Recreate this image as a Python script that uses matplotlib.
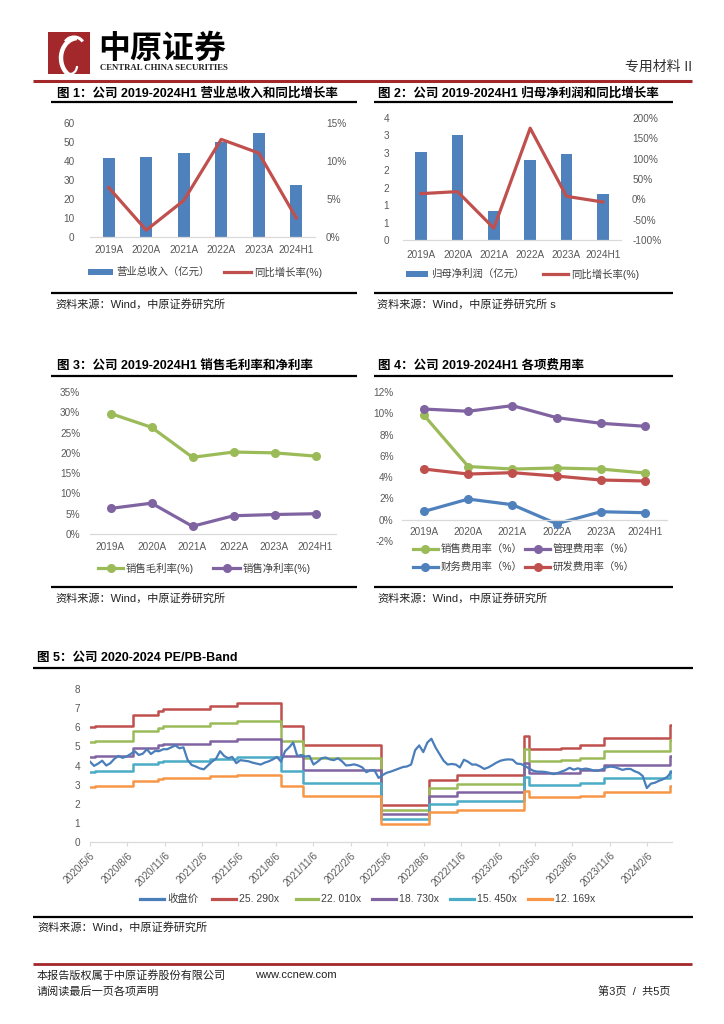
import matplotlib
matplotlib.use('Agg')
import matplotlib.pyplot as plt
import numpy as np
import pandas as pd
from matplotlib.lines import Line2D
from matplotlib.patches import Rectangle, Arc
import matplotlib.dates as mdates

plt.rcParams['font.family'] = ['Liberation Sans', 'Noto Sans CJK SC']
plt.rcParams['axes.unicode_minus'] = False

# ---------------- data ----------------
years = ['2019A', '2020A', '2021A', '2022A', '2023A', '2024H1']
revenue = [41.8, 41.9, 44.2, 49.8, 55.0, 27.2]          # 亿元
revenue_yoy = [6.5, 0.9, 4.8, 12.85, 11.05, 2.5]          # %
profit = [2.52, 3.01, 0.84, 2.30, 2.47, 1.32]             # 亿元
profit_yoy = [14, 19, -71, 175, 7.4, -6.6]                # %
gross_margin = [29.7, 26.3, 18.9, 20.2, 20.0, 19.2]
net_margin = [6.3, 7.6, 1.9, 4.5, 4.8, 5.0]
sell_exp = [9.8, 5.0, 4.76, 4.86, 4.76, 4.39]
admin_exp = [10.4, 10.19, 10.72, 9.59, 9.06, 8.78]
fin_exp = [0.78, 1.94, 1.41, -0.38, 0.75, 0.66]
rd_exp = [4.76, 4.29, 4.42, 4.10, 3.73, 3.64]

# PE band chart
price_start = '2020-05-06'
price_step_days = 10
close_price = [
    4.20, 3.98, 4.10, 4.25, 4.00, 4.12, 4.35, 4.50, 4.40, 4.47,
    4.60, 4.75, 4.55, 4.62, 4.85, 4.60, 4.76, 4.75, 4.85, 4.85,
    4.95, 5.05, 4.90, 4.95, 4.30, 4.03, 3.95, 3.85, 3.80, 4.00,
    4.20, 4.35, 4.75, 4.50, 4.38, 4.45, 4.12, 4.28, 4.25, 4.22,
    4.15, 4.10, 4.05, 4.15, 4.22, 4.32, 4.45, 4.20, 4.75, 4.95,
    5.20, 4.50, 4.55, 4.47, 4.50, 4.05, 4.20, 4.38, 4.42, 4.32,
    4.28, 4.38, 4.22, 4.00, 4.02, 4.06, 4.00, 3.90, 3.65, 3.75,
    3.75, 3.35, 3.50, 3.62, 3.68, 3.76, 3.84, 3.92, 3.95, 4.05,
    4.80, 5.05, 4.70, 5.20, 5.40, 4.95, 4.60, 4.25, 4.05, 4.08,
    4.05, 3.90, 4.30, 4.20, 4.05, 4.05, 3.95, 3.82, 3.90, 4.02,
    4.15, 4.25, 4.30, 4.32, 4.30, 4.10, 4.08, 3.98, 3.85, 3.73,
    3.68, 3.68, 3.66, 3.62, 3.55, 3.60, 3.68, 3.76, 3.88, 3.78,
    3.85, 3.80, 3.84, 3.80, 3.73, 3.73, 3.80, 3.90, 3.94, 3.92,
    3.85, 3.77, 3.82, 3.82, 3.70, 3.62, 3.45, 2.82, 3.05, 3.10,
    3.20, 3.28, 3.40, 3.65,
]
eps_dates = ['2020-05-06', '2020-05-18', '2020-08-20', '2020-10-20', '2020-11-01',
             '2021-02-25', '2021-05-02', '2021-08-18', '2021-10-11', '2022-04-21',
             '2022-08-17', '2022-10-27', '2023-04-10', '2023-04-22', '2023-07-10',
             '2023-08-25', '2023-10-23', '2024-04-02']
eps_ttm = [0.2372, 0.2404, 0.2630, 0.2700, 0.2748,
           0.2820, 0.2875, 0.2388, 0.1997, 0.0771,
           0.1273, 0.1384, 0.2198, 0.1914, 0.1938,
           0.1997, 0.2155, 0.2412]
band_end = '2024-04-05'
pe_multiples = [25.290, 22.010, 18.730, 15.450, 12.169]
pe_labels = ['25. 290x', '22. 010x', '18. 730x', '15. 450x', '12. 169x']
band_ticks = ['2020-05-06', '2020-08-06', '2020-11-06', '2021-02-06', '2021-05-06',
              '2021-08-06', '2021-11-06', '2022-02-06', '2022-05-06', '2022-08-06',
              '2022-11-06', '2023-02-06', '2023-05-06', '2023-08-06', '2023-11-06',
              '2024-02-06']

# ---------------- colours ----------------
BLUE = '#4F81BD'
RED = '#C0504D'
GREEN = '#9BBB59'
PURPLE = '#8064A2'
CYAN = '#4BACC6'
ORANGE = '#F79646'
TXT = '#595959'
DARKRED = '#A3282C'

W, H = 724, 1024
fig = plt.figure(figsize=(W / 100, H / 100), dpi=100)


def rect(x0, y0, x1, y1):
    return [x0 / W, 1 - y1 / H, (x1 - x0) / W, (y1 - y0) / H]


def hline(y, x0, x1, color='black', lw=1.6):
    fig.add_artist(Line2D([x0 / W, x1 / W], [1 - y / H, 1 - y / H], color=color, lw=lw,
                          solid_capstyle='butt'))


def text(x, y, s, **kw):
    kw.setdefault('va', 'center')
    fig.text(x / W, 1 - y / H, s, **kw)


def leg_patch(x0, x1, y, color, label, h=6):
    fig.add_artist(Rectangle((x0 / W, 1 - (y + h / 2) / H), (x1 - x0) / W, h / H,
                             color=color, lw=0))
    text(x1 + 3, y, label, fontsize=7.5, color='#404040')


def leg_line(x0, x1, y, color, label, marker=False, lw=2.3):
    fig.add_artist(Line2D([x0 / W, x1 / W], [1 - y / H, 1 - y / H], color=color, lw=lw))
    if marker:
        fig.add_artist(Line2D([(x0 + x1) / 2 / W], [1 - y / H], color=color, marker='o',
                              ms=5.5, lw=0))
    text(x1 + 3, y, label, fontsize=7.5, color='#404040')


def style(ax, left=True):
    for s in ['top', 'right', 'left']:
        ax.spines[s].set_visible(False)
    ax.spines['bottom'].set_color('#D9D9D9')
    ax.spines['bottom'].set_linewidth(0.9)
    ax.tick_params(length=0, labelsize=7.2, labelcolor=TXT)


# ---------------- header ----------------
fig.add_artist(Rectangle((48 / W, 1 - 74 / H), 42 / W, 42 / H, color=DARKRED, lw=0))
fig.add_artist(Arc((78 / W, 1 - 58 / H), 34 / W, 40 / H, theta1=95, theta2=250,
                   color='white', lw=3.2))
fig.add_artist(Arc((74 / W, 1 - 46 / H), 20 / W, 18 / H, theta1=20, theta2=160,
                   color='white', lw=2.2))
fig.add_artist(Arc((70 / W, 1 - 66 / H), 14 / W, 16 / H, theta1=200, theta2=360,
                   color='white', lw=1.6))
text(98, 49, '中原证券', fontsize=23, fontweight='bold', color='black',
     family=['Noto Sans CJK SC'])
text(100, 68, 'CENTRAL CHINA SECURITIES', fontsize=6.3, fontweight='bold', color='#222222',
     family=['Liberation Serif'])
text(692, 67, '专用材料 II', fontsize=10, color='#333333', ha='right')
hline(81, 33, 692, color=DARKRED, lw=2.2)

# ---------------- section titles / rules ----------------
TFS = 9
text(57, 93, '图 1：公司 2019-2024H1 营业总收入和同比增长率', fontsize=TFS, fontweight='bold')
text(378, 93, '图 2：公司 2019-2024H1 归母净利润和同比增长率', fontsize=TFS, fontweight='bold')
hline(102, 51, 357)
hline(102, 374, 673)
hline(293, 51, 357)
hline(293, 374, 673)
text(55, 304, '资料来源：Wind，中原证券研究所', fontsize=8, color='#222222')
text(377, 304, '资料来源：Wind，中原证券研究所 s', fontsize=8, color='#222222')

text(57, 366, '图 3：公司 2019-2024H1 销售毛利率和净利率', fontsize=TFS, fontweight='bold')
text(378, 366, '图 4：公司 2019-2024H1 各项费用率', fontsize=TFS, fontweight='bold')
hline(376, 51, 357)
hline(376, 374, 673)
hline(587, 51, 357)
hline(587, 374, 673)
text(55, 598, '资料来源：Wind，中原证券研究所', fontsize=8, color='#222222')
text(377, 598, '资料来源：Wind，中原证券研究所', fontsize=8, color='#222222')

text(37, 658, '图 5：公司 2020-2024 PE/PB-Band', fontsize=TFS, fontweight='bold')
hline(668, 33, 693)
hline(917, 33, 693)
text(37, 927, '资料来源：Wind，中原证券研究所', fontsize=8, color='#222222')

# ---------------- footer ----------------
hline(964, 33, 692, color=DARKRED, lw=2.0)
text(37, 975, '本报告版权属于中原证券股份有限公司', fontsize=8, color='#222222')
text(255, 975, 'www.ccnew.com', fontsize=8, color='#222222')
text(37, 992, '请阅读最后一页各项声明', fontsize=8, color='#222222')
text(670, 992, '第3页  /  共5页', fontsize=8, color='#222222', ha='right')

x = np.arange(len(years))

# ---------------- chart 1 ----------------
ax1 = fig.add_axes(rect(90, 123, 315, 237))
ax1.bar(x, revenue, width=0.32, color=BLUE)
ax1.set_xlim(-0.5, 5.5)
ax1.set_ylim(0, 60)
ax1.set_yticks(range(0, 61, 10))
ax1.set_xticks(x)
ax1.set_xticklabels(years)
style(ax1)
ax1.tick_params(axis='y', pad=11)
ax1.tick_params(axis='x', pad=6)
ax1b = ax1.twinx()
ax1b.plot(x, revenue_yoy, color=RED, lw=2.3)
ax1b.set_ylim(0, 15)
ax1b.set_yticks([0, 5, 10, 15])
ax1b.set_yticklabels(['0%', '5%', '10%', '15%'])
style(ax1b)
ax1b.spines['bottom'].set_visible(False)
ax1b.tick_params(axis='y', pad=8)
leg_patch(88, 113, 272, BLUE, '营业总收入（亿元）')
leg_line(224, 251, 272, RED, '同比增长率(%)')

# ---------------- chart 2 ----------------
ax2 = fig.add_axes(rect(403, 118, 621, 240))
ax2.bar(x, profit, width=0.32, color=BLUE)
ax2.set_xlim(-0.5, 5.5)
ax2.set_ylim(0, 3.5)
ax2.set_yticks(np.arange(0, 3.51, 0.5))
ax2.set_yticklabels(['0', '1', '1', '2', '2', '3', '3', '4'])
ax2.set_xticks(x)
ax2.set_xticklabels(years)
style(ax2)
ax2.tick_params(axis='y', pad=10)
ax2.tick_params(axis='x', pad=7)
ax2b = ax2.twinx()
ax2b.plot(x, profit_yoy, color=RED, lw=2.3)
ax2b.set_ylim(-100, 200)
ax2b.set_yticks(range(-100, 201, 50))
ax2b.set_yticklabels([f'{v}%' for v in range(-100, 201, 50)])
style(ax2b)
ax2b.spines['bottom'].set_visible(False)
ax2b.tick_params(axis='y', pad=8)
leg_patch(406, 428, 274, BLUE, '归母净利润（亿元）')
leg_line(543, 568, 274, RED, '同比增长率(%)')

# ---------------- chart 3 ----------------
ax3 = fig.add_axes(rect(90, 392, 336, 534))
ax3.plot(x, gross_margin, color=GREEN, lw=2.3, marker='o', ms=5.5)
ax3.plot(x, net_margin, color=PURPLE, lw=2.3, marker='o', ms=5.5)
ax3.set_xlim(-0.5, 5.5)
ax3.set_ylim(0, 35)
ax3.set_yticks(range(0, 36, 5))
ax3.set_yticklabels([f'{v}%' for v in range(0, 36, 5)])
ax3.set_xticks(x)
ax3.set_xticklabels(years)
style(ax3)
ax3.tick_params(axis='y', pad=7)
ax3.tick_params(axis='x', pad=6)
leg_line(98, 123, 568, GREEN, '销售毛利率(%)', marker=True)
leg_line(213, 240, 568, PURPLE, '销售净利率(%)', marker=True)

# ---------------- chart 4 ----------------
ax4 = fig.add_axes(rect(402, 392, 667, 541))
ax4.plot(x, sell_exp, color=GREEN, lw=2.3, marker='o', ms=5.5)
ax4.plot(x, admin_exp, color=PURPLE, lw=2.3, marker='o', ms=5.5)
ax4.plot(x, fin_exp, color=BLUE, lw=2.3, marker='o', ms=5.5)
ax4.plot(x, rd_exp, color=RED, lw=2.3, marker='o', ms=5.5)
ax4.set_xlim(-0.5, 5.5)
ax4.set_ylim(-2, 12)
ax4.set_yticks(range(-2, 13, 2))
ax4.set_yticklabels([f'{v}%' for v in range(-2, 13, 2)])
ax4.set_xticks(x)
ax4.set_xticklabels(years)
style(ax4)
ax4.spines['bottom'].set_position(('data', 0))
ax4.tick_params(axis='y', pad=6)
ax4.tick_params(axis='x', pad=5)
leg_line(413, 438, 549, GREEN, '销售费用率（%）', marker=True)
leg_line(525, 550, 549, PURPLE, '管理费用率（%）', marker=True)
leg_line(413, 438, 567, BLUE, '财务费用率（%）', marker=True)
leg_line(525, 550, 567, RED, '研发费用率（%）', marker=True)

# ---------------- chart 5 ----------------
ax5 = fig.add_axes(rect(90, 689, 672, 842))
pdates = pd.date_range(price_start, periods=len(close_price), freq=f'{price_step_days}D')
band_colors = [RED, GREEN, PURPLE, CYAN, ORANGE]
sd = pd.to_datetime(eps_dates + [band_end])
for m, c in zip(pe_multiples, band_colors):
    vals = [e * m for e in eps_ttm]
    ax5.step(sd, vals + [vals[-1]], where='post', color=c, lw=1.8)
ax5.plot(pdates, close_price, color='#4A7EBB', lw=1.6)
ax5.set_xlim(pd.Timestamp('2020-05-06'), pd.Timestamp('2024-04-07'))
ax5.set_ylim(0, 8)
ax5.set_yticks(range(0, 9))
tick_dt = pd.to_datetime(band_ticks)
ax5.set_xticks(tick_dt)
ax5.set_xticklabels([f'{d.year}/{d.month}/{d.day}' for d in tick_dt], rotation=45,
                    ha='right', rotation_mode='anchor')
style(ax5)
ax5.tick_params(axis='x', length=3, color='#D9D9D9', pad=3)
ax5.tick_params(axis='y', pad=7)
leg_line(140, 164, 899, '#4A7EBB', '收盘价')
leg_line(212, 236, 899, RED, pe_labels[0])
leg_line(296, 318, 899, GREEN, pe_labels[1])
leg_line(372, 396, 899, PURPLE, pe_labels[2])
leg_line(450, 474, 899, CYAN, pe_labels[3])
leg_line(528, 552, 899, ORANGE, pe_labels[4])

fig.savefig('out.png', dpi=100)
